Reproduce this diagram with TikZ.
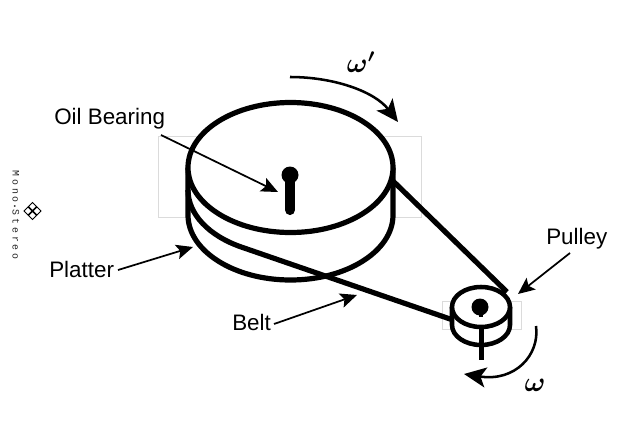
\documentclass[tikz,border=0pt]{standalone}
\usepackage{fontspec}
\setmainfont{Liberation Sans}
\newfontfamily\wmfont[LetterSpace=28]{Liberation Mono}
\usetikzlibrary{arrows.meta}
\definecolor{ghost}{gray}{0.86}
\tikzset{
  x=0.75pt,y=-0.75pt,
  thick line/.style={line width=3.9pt,black},
  belt line/.style={line width=3.9pt,black},
  ghostbox/.style={draw=ghost,line width=0.6pt},
  pointer/.style={line width=1.3pt,-{Stealth[length=12.5pt,width=11pt,inset=2.5pt]}},
  turn arrow/.style={line width=1.9pt,-{Stealth[length=16.5pt,width=15pt,inset=4pt]}},
  label/.style={font=\fontsize{16.8pt}{18pt}\selectfont,inner sep=0pt,text=black},
  omega/.style={font=\fontsize{22pt}{26pt}\selectfont\boldmath,inner sep=0pt},
}
\begin{document}
\begin{tikzpicture}
\useasboundingbox (0,0) rectangle (640,429);
\fill[white] (0,0) rectangle (640,429);
% faint boxes
\draw[ghostbox] (158,136) rectangle (421,217);
\draw[ghostbox] (442,301) rectangle (521,329);
% platter
\fill[white] (188,167.5) -- (188,215) arc[start angle=180,end angle=0,x radius=102.5,y radius=65] -- (393,167.5) -- cycle;
\draw[thick line] (188,167.5) -- (188,215) arc[start angle=180,end angle=0,x radius=102.5,y radius=65] -- (393,167.5);
% belt
\coordinate (beltA) at (393,181);
\coordinate (beltB) at (507,292);
\coordinate (beltC) at (453,320);
\draw[belt line] (beltA) -- (beltB);
\draw[belt line,line join=round] (188,190) arc[start angle=180,end angle=118,x radius=102.5,y radius=65] -- (beltC);
\draw[thick line,fill=white] (290.5,167.5) ellipse[x radius=102.5,y radius=65];
% spindle
\fill (290,175) circle[radius=8.5];
\draw[line width=7.6pt,line cap=round] (290,178) -- (290,210);
% pulley
\fill[white] (452,307) -- (452,325) arc[start angle=180,end angle=0,x radius=29,y radius=20] -- (510,307) -- cycle;
\draw[thick line,line width=3.4pt] (452,307) -- (452,325) arc[start angle=180,end angle=0,x radius=29,y radius=20] -- (510,307);
\draw[thick line,line width=3.4pt,fill=white] (481,307) ellipse[x radius=29,y radius=20];
\draw[line width=3.2pt] (481.5,328) -- (481.5,360);
\fill (480,307) circle[radius=8.5];
\draw[line width=3.2pt] (481,310) -- (481,317);
% labels and pointers
\node[label,anchor=west] (oil) at (54,119) {Oil Bearing};
\node[label,anchor=west] (platter) at (49,269) {Platter};
\node[label,anchor=west] (beltlab) at (232,322) {Belt};
\node[label,anchor=west] (pulley) at (546,239) {Pulley};
\coordinate (oilT) at (278,192);
\coordinate (platT) at (193,247);
\coordinate (beltT) at (357,295);
\coordinate (pullT) at (518,294);
\draw[pointer] (161,135) -- (oilT);
\draw[pointer] (118,270) -- (platT);
\draw[pointer] (274,324) -- (beltT);
\draw[pointer] (570,253) -- (pullT);
% rotation arrows
\draw[turn arrow] (290,77) .. controls (335,77) and (375,92) .. (398,122);
\draw[turn arrow] (536,326) .. controls (540,355) and (515,382) .. (464,374);
\node[omega] (wp) at (361,62) {$\omega'$};
\node[omega] (w) at (535,385) {$\omega$};
% watermark
\node[rotate=-90,font=\wmfont\fontsize{7.4pt}{8pt}\selectfont,text=black!85,inner sep=0pt] (wm) at (16,215) {Mono\,{\tiny\textbullet}\,Stereo};
\foreach \dx/\dy in {0/-4.5,4.5/0,0/4.5,-4.5/0}
  \draw[line width=0.6pt] (32.5+\dx,211+\dy-4) -- ++(4,4) -- ++(-4,4) -- ++(-4,-4) -- cycle;
\end{tikzpicture}
\end{document}
